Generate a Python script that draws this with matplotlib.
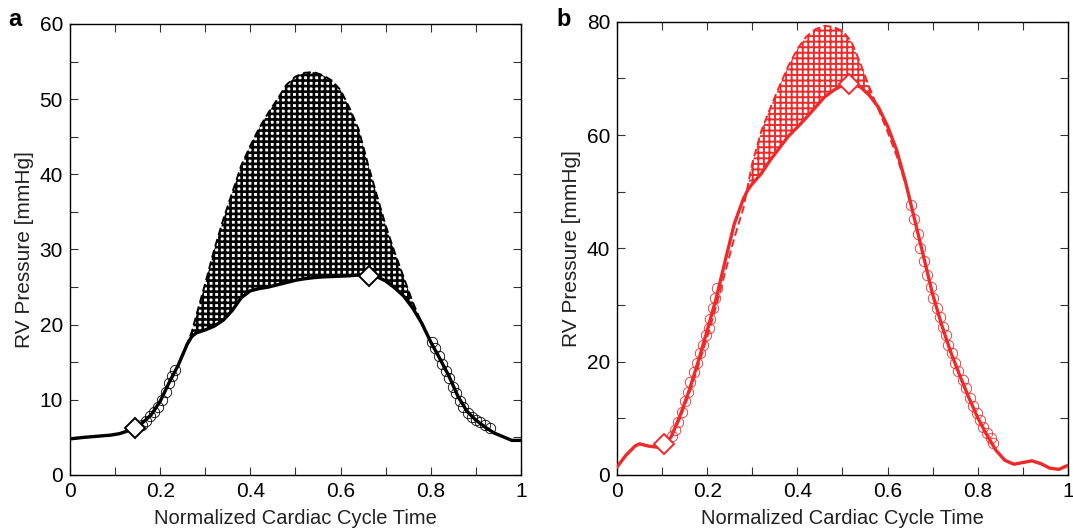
import matplotlib
matplotlib.use('Agg')
import matplotlib.pyplot as plt
from matplotlib.ticker import MultipleLocator

plt.rcParams['font.family'] = ['Liberation Sans', 'DejaVu Sans']

# --- panel a (black) ---
t_a = [0, 0.03, 0.06, 0.09, 0.11, 0.13, 0.16, 0.18, 0.2, 0.22, 0.24, 0.26, 0.27, 0.28,
       0.30, 0.32, 0.34, 0.36, 0.38, 0.40, 0.42, 0.44, 0.46, 0.48, 0.50, 0.52, 0.54,
       0.56, 0.58, 0.60, 0.62, 0.64, 0.66, 0.68, 0.70, 0.72, 0.74, 0.76, 0.78, 0.80,
       0.82, 0.84, 0.86, 0.88, 0.90, 0.92, 0.94, 0.96, 0.98, 1.0]
solid_a = [4.8, 5.0, 5.15, 5.3, 5.5, 5.9, 6.9, 8.0, 9.8, 12.3, 14.6, 17.4, 18.4, 18.9,
           19.3, 19.8, 20.6, 21.9, 23.6, 24.5, 24.8, 25.0, 25.3, 25.6, 25.9, 26.1, 26.25,
           26.35, 26.4, 26.45, 26.5, 26.6, 26.6, 26.4, 25.8, 24.9, 23.8, 22.2, 20.2, 17.7,
           15.5, 13.2, 10.5, 8.5, 7.3, 6.4, 5.6, 5.1, 4.6, 4.6]
dashed_a = [4.8, 5.0, 5.15, 5.3, 5.5, 5.9, 6.9, 8.0, 9.8, 12.3, 14.6, 17.5, 19.0, 21.2,
            25.5, 30.0, 34.0, 37.6, 41.2, 43.8, 46.2, 48.2, 50.0, 51.9, 53.0, 53.5, 53.6,
            53.2, 52.5, 51.2, 48.8, 46.0, 41.5, 37.3, 33.2, 29.6, 26.3, 23.0, 20.2, 17.7,
            15.5, 13.2, 10.5, 8.5, 7.3, 6.4, 5.6, 5.1, 4.6, 4.6]
circ_a_t = [0.159, 0.168, 0.177, 0.186, 0.195, 0.204, 0.212, 0.219, 0.226, 0.232,
            0.803, 0.809, 0.819, 0.824, 0.834, 0.840, 0.849, 0.857, 0.865, 0.872,
            0.882, 0.891, 0.900, 0.909, 0.920, 0.931]
circ_a_p = [6.7, 7.2, 7.8, 8.4, 9.1, 10.0, 11.0, 12.2, 13.2, 14.0,
            17.7, 16.9, 15.8, 14.8, 13.8, 12.9, 11.7, 10.9, 9.9, 9.0,
            8.2, 7.7, 7.3, 7.0, 6.7, 6.2]
diam_a_t = [0.144, 0.663]
diam_a_p = [6.2, 26.5]

# --- panel b (red) ---
t_b = [0, 0.02, 0.04, 0.05, 0.07, 0.09, 0.105, 0.12, 0.14, 0.16, 0.18, 0.2, 0.22, 0.24,
       0.26, 0.28, 0.29, 0.30, 0.32, 0.34, 0.36, 0.38, 0.40, 0.42, 0.44, 0.46, 0.48,
       0.50, 0.52, 0.54, 0.56, 0.58, 0.60, 0.62, 0.64, 0.66, 0.68, 0.70, 0.72, 0.74,
       0.76, 0.78, 0.80, 0.82, 0.84, 0.86, 0.88, 0.90, 0.92, 0.94, 0.96, 0.98, 1.0]
solid_b = [1.4, 3.5, 5.1, 5.5, 5.1, 4.9, 5.5, 6.7, 10.5, 14.9, 20.0, 25.5, 31.2, 37.8,
           44.3, 48.7, 50.3, 51.4, 53.2, 55.6, 57.7, 59.8, 61.4, 63.1, 64.9, 66.7, 67.9,
           68.8, 69.0, 68.5, 67.0, 64.9, 61.6, 57.4, 51.7, 45.1, 38.5, 31.9, 26.5, 21.7,
           17.6, 13.7, 10.1, 7.1, 4.4, 2.6, 1.9, 2.2, 2.5, 2.0, 1.2, 1.0, 1.7]
dashed_b = [1.4, 3.5, 5.1, 5.5, 5.1, 4.9, 5.5, 6.6, 10.0, 14.3, 19.2, 24.3, 29.8, 35.8,
            41.8, 47.0, 51.0, 55.0, 60.7, 64.8, 68.6, 72.2, 75.2, 77.4, 78.7, 79.3, 79.1,
            78.4, 76.5, 72.6, 68.4, 64.5, 60.6, 56.4, 51.3, 45.1, 38.5, 31.9, 26.5, 21.7,
            17.6, 13.7, 10.1, 7.1, 4.4, 2.6, 1.9, 2.2, 2.5, 2.0, 1.2, 1.0, 1.7]
circ_b_t = [0.121, 0.129, 0.136, 0.145, 0.151, 0.158, 0.163, 0.171, 0.177, 0.184,
            0.190, 0.197, 0.203, 0.207, 0.212, 0.217, 0.222,
            0.652, 0.659, 0.667, 0.673, 0.681, 0.688, 0.696, 0.701, 0.709, 0.716,
            0.723, 0.729, 0.735, 0.742, 0.749, 0.757, 0.767, 0.774, 0.783, 0.790,
            0.798, 0.805, 0.812, 0.820, 0.829, 0.834]
circ_b_p = [6.8, 8.0, 9.4, 11.2, 13.0, 14.7, 16.5, 18.1, 19.7, 21.5,
            23.0, 24.7, 26.0, 27.5, 29.5, 31.3, 33.0,
            47.7, 45.2, 42.6, 40.1, 37.7, 35.3, 33.2, 31.2, 29.5, 27.9,
            26.2, 24.7, 23.0, 21.5, 19.7, 18.3, 16.8, 15.3, 13.6, 12.1,
            10.9, 9.7, 8.5, 7.4, 6.5, 5.6]
diam_b_t = [0.105, 0.515]
diam_b_p = [5.5, 69.1]

RED = '#ee2a2a'

fig = plt.figure(figsize=(10.73, 5.30), dpi=100)
ax_a = fig.add_axes([0.0652, 0.1038, 0.4203, 0.851])
ax_b = fig.add_axes([0.575, 0.1038, 0.4203, 0.855])


def draw_panel(ax, t, solid, dashed, ct, cp, dt, dp, color, hatch_lw, ymax, ymaj, ymin):
    plt.rcParams['hatch.linewidth'] = hatch_lw
    hat = ax.fill_between(t, solid, dashed, where=[d >= s for d, s in zip(dashed, solid)],
                          interpolate=True, facecolor='none', edgecolor=color,
                          hatch='+++', linewidth=0, zorder=1)
    if hasattr(hat, 'set_hatch_linewidth'):
        hat.set_hatch_linewidth(hatch_lw)
    ax.plot(t, dashed, color=color, lw=1.4, ls=(0, (4, 2)), zorder=2)
    ax.plot(t, solid, color=color, lw=2.4, zorder=3)
    ax.plot(ct, cp, ls='none', marker='o', ms=7.5, mfc='none', mec=color, mew=0.6, zorder=4)
    ax.plot(dt, dp, ls='none', marker='D', ms=10, mfc='white', mec=color, mew=1.4, zorder=5)
    ax.set_xlim(0, 1)
    ax.set_ylim(0, ymax)
    ax.xaxis.set_major_locator(MultipleLocator(0.2))
    ax.xaxis.set_minor_locator(MultipleLocator(0.1))
    ax.yaxis.set_major_locator(MultipleLocator(ymaj))
    ax.yaxis.set_minor_locator(MultipleLocator(ymin))
    ax.xaxis.set_major_formatter(plt.FuncFormatter(lambda v, p: '%g' % v))
    ax.tick_params(which='both', direction='in', top=True, right=True,
                   length=6, width=0.8, color='#333333')
    ax.tick_params(labelsize=15, pad=5)
    for s in ax.spines.values():
        s.set_linewidth(1.0)
    ax.set_xlabel('Normalized Cardiac Cycle Time', fontsize=14.5, labelpad=6, color='#222222')
    ax.set_ylabel('RV Pressure [mmHg]', fontsize=15, labelpad=4, color='#222222')


draw_panel(ax_a, t_a, solid_a, dashed_a, circ_a_t, circ_a_p, diam_a_t, diam_a_p,
           'black', 1.9, 60, 10, 5)
draw_panel(ax_b, t_b, solid_b, dashed_b, circ_b_t, circ_b_p, diam_b_t, diam_b_p,
           RED, 1.4, 80, 20, 10)

fig.text(0.008, 0.95, 'a', fontsize=17, fontweight='bold')
fig.text(0.519, 0.95, 'b', fontsize=17, fontweight='bold')

fig.savefig('out.png', dpi=100)
